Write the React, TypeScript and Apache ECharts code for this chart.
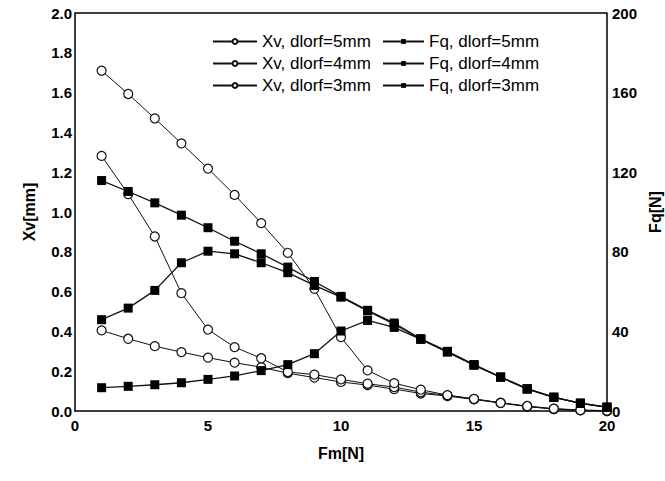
import React, { useEffect, useRef } from "react";
import * as echarts from "echarts";

const fm = [1, 2, 3, 4, 5, 6, 7, 8, 9, 10, 11, 12, 13, 14, 15, 16, 17, 18, 19, 20];

const xv5 = [0.405, 0.363, 0.326, 0.296, 0.268, 0.243, 0.22, 0.19, 0.168, 0.146, 0.13, 0.11, 0.088, 0.075, 0.058, 0.04, 0.022, 0.01, 0.003, 0];
const xv4 = [1.282, 1.09, 0.877, 0.592, 0.409, 0.321, 0.265, 0.196, 0.183, 0.159, 0.137, 0.12, 0.095, 0.078, 0.06, 0.042, 0.023, 0.01, 0.004, 0];
const xv3 = [1.71, 1.593, 1.47, 1.345, 1.218, 1.086, 0.944, 0.795, 0.614, 0.371, 0.204, 0.14, 0.107, 0.08, 0.061, 0.041, 0.025, 0.012, 0.005, 0.002];

const fq5 = [11.7, 12.4, 13.2, 14.2, 15.9, 17.6, 20.3, 23.3, 28.8, 40.2, 45.5, 42, 36, 29.6, 23, 17, 11, 6.8, 3.8, 1.8];
const fq4 = [45.9, 51.7, 60.6, 74.5, 80.3, 79, 74.5, 69.5, 63.1, 57.2, 50.3, 43.6, 36.2, 29.8, 23.2, 17, 11.1, 6.9, 3.9, 1.9];
const fq3 = [115.8, 110.3, 104.6, 98.4, 92.1, 85.3, 79, 72.3, 65.1, 57.6, 50.6, 44.2, 36.3, 30, 23.3, 17.1, 11.2, 7, 4, 2];

const xTicks = { min: 0, max: 20, interval: 5 };
const leftTicks = { min: 0, max: 2, interval: 0.2 };
const rightTicks = { min: 0, max: 200, interval: 40 };

const FONT = "'Liberation Sans', Arial, sans-serif";

function pairs(ys: number[]) {
  return fm.map((x, i) => [x, ys[i]]);
}

export default function App() {
  const ref = useRef<HTMLDivElement>(null);
  useEffect(() => {
    if (!ref.current) return;
    const chart = echarts.init(ref.current, null, { renderer: "svg" });
    const circ = (name: string, ys: number[]) => ({
      name,
      type: "line",
      yAxisIndex: 0,
      data: pairs(ys),
      symbol: "circle",
      symbolSize: 9,
      lineStyle: { color: "#111", width: 1 },
      itemStyle: { color: "#fff", borderColor: "#111", borderWidth: 1.2 },
      z: 3,
    });
    const sq = (name: string, ys: number[]) => ({
      name,
      type: "line",
      yAxisIndex: 1,
      data: pairs(ys),
      symbol: "rect",
      symbolSize: 9,
      lineStyle: { color: "#111", width: 1.3 },
      itemStyle: { color: "#000", borderColor: "#000", borderWidth: 0 },
      z: 4,
    });
    const labelStyle = { color: "#000", fontFamily: FONT, fontWeight: "bold" as const, fontSize: 15 };
    const nameStyle = { color: "#000", fontFamily: FONT, fontWeight: "bold" as const, fontSize: 16 };
    const legendText = { color: "#000", fontFamily: FONT, fontSize: 17, lineHeight: 17 };
    chart.setOption({
      animation: false,
      backgroundColor: "#fff",
      grid: { left: 75, right: 58, top: 13, bottom: 70, outerBoundsMode: "none", containLabel: false },
      legend: [
        {
          data: ["Xv, dlorf=5mm", "Xv, dlorf=4mm", "Xv, dlorf=3mm"],
          orient: "vertical",
          left: 207,
          top: 28,
          itemWidth: 44,
          itemHeight: 6,
          itemGap: 5,
          textStyle: legendText,
        },
        {
          data: ["Fq, dlorf=5mm", "Fq, dlorf=4mm", "Fq, dlorf=3mm"],
          orient: "vertical",
          left: 377,
          top: 28,
          itemWidth: 41,
          itemHeight: 6,
          itemGap: 5,
          textStyle: legendText,
        },
      ],
      xAxis: {
        type: "value",
        ...xTicks,
        name: "Fm[N]",
        nameLocation: "middle",
        nameGap: 34,
        nameTextStyle: nameStyle,
        axisLine: { lineStyle: { color: "#000", width: 1.5 } },
        axisTick: { show: false },
        axisLabel: { ...labelStyle, margin: 7 },
        splitLine: { show: false },
      },
      yAxis: [
        {
          type: "value",
          ...leftTicks,
          name: "Xv[mm]",
          nameLocation: "middle",
          nameGap: 38,
          nameRotate: 90,
          nameTextStyle: nameStyle,
          axisLine: { show: true, lineStyle: { color: "#000", width: 1.5 } },
          axisTick: { show: false },
          axisLabel: { ...labelStyle, margin: 3, formatter: (v: number) => v.toFixed(1) },
          splitLine: { show: false },
        },
        {
          type: "value",
          ...rightTicks,
          position: "right",
          name: "Fq[N]",
          nameLocation: "middle",
          nameGap: 37,
          nameRotate: 90,
          nameTextStyle: nameStyle,
          axisLine: { show: true, lineStyle: { color: "#000", width: 1.5 } },
          axisTick: { show: false },
          axisLabel: { ...labelStyle, margin: 5 },
          splitLine: { show: false },
        },
      ],
      graphic: [
        {
          type: "line",
          shape: { x1: 75, y1: 13, x2: 607, y2: 13 },
          style: { stroke: "#000", lineWidth: 1.5 },
        },
      ],
      series: [
        circ("Xv, dlorf=5mm", xv5),
        circ("Xv, dlorf=4mm", xv4),
        circ("Xv, dlorf=3mm", xv3),
        sq("Fq, dlorf=5mm", fq5),
        sq("Fq, dlorf=4mm", fq4),
        sq("Fq, dlorf=3mm", fq3),
      ],
    });
    return () => chart.dispose();
  }, []);
  return (
    <div
      ref={ref}
      style={{ position: "absolute", left: 0, top: 0, width: 665, height: 481 }}
    />
  );
}
